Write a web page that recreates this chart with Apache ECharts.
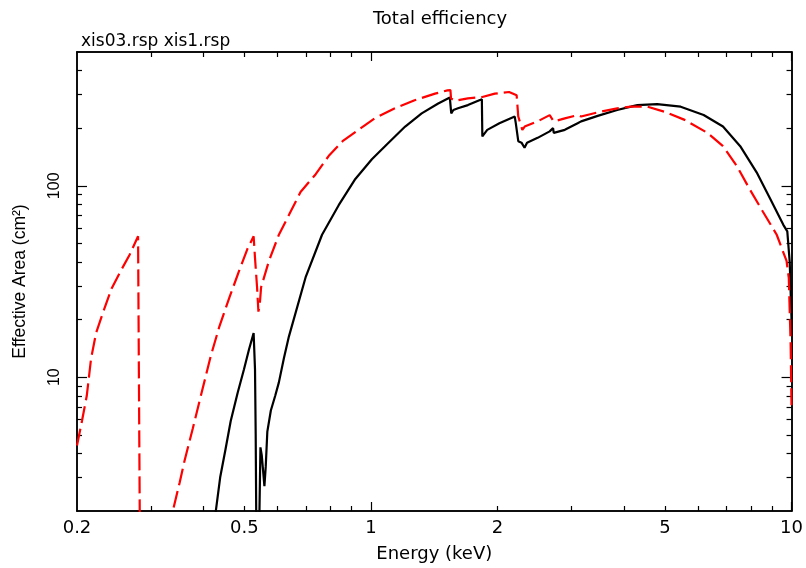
<!DOCTYPE html>
<html>
<head>
<meta charset="utf-8">
<title>Total efficiency</title>
<script src="https://cdn.jsdelivr.net/npm/echarts@6/dist/echarts.min.js"></script>
<style>
  html, body { margin: 0; padding: 0; background: #fff; }
  #chart { width: 806px; height: 568px; }
</style>
</head>
<body>
<div id="chart"></div>
<script>
// xis03.rsp (black, solid) - [energy keV, effective area cm2]
const xis03Points = [
  [0.425, 1.8], [0.438, 3.0], [0.451, 4.2], [0.464, 5.9], [0.482, 8.3],
  [0.499, 11.0], [0.513, 14.0], [0.526, 17.0], [0.530, 11.0], [0.532, 5.0],
  [0.534, 1.5], [0.542, 1.5], [0.546, 4.3], [0.550, 3.9], [0.553, 3.4],
  [0.558, 2.7], [0.562, 3.4], [0.567, 5.2], [0.578, 6.7], [0.592, 8.0],
  [0.604, 9.4], [0.621, 12.6], [0.638, 16.3], [0.699, 33.2], [0.765, 55.5],
  [0.838, 79.2], [0.918, 108.6], [1.005, 137.7], [1.101, 167.8], [1.206, 204],
  [1.320, 239], [1.445, 269], [1.54, 289], [1.552, 239], [1.57, 249],
  [1.61, 254], [1.70, 264], [1.81, 280], [1.835, 283], [1.84, 181],
  [1.89, 196], [2.02, 212], [2.197, 230], [2.21, 212], [2.24, 171],
  [2.28, 168], [2.318, 158], [2.35, 168], [2.49, 178], [2.66, 192.5],
  [2.71, 200], [2.72, 189], [2.89, 196], [3.10, 212], [3.16, 217],
  [3.18, 212], [3.46, 232], [3.85, 249], [4.15, 259], [4.30, 264],
  [4.79, 267], [5.45, 259], [6.18, 234.5], [6.87, 204], [7.55, 161],
  [8.26, 117.6], [8.89, 85.7], [9.56, 62.5], [9.77, 57.8], [9.9, 40],
  [10, 20]
];

// xis1.rsp (red, dashed)
const xis1Points = [
  [0.2, 4.4], [0.2055, 5.9], [0.211, 8.0], [0.216, 12.5], [0.222, 17.0],
  [0.2308, 21.9], [0.2416, 29.0], [0.253, 35.3], [0.267, 43.8], [0.2794, 54.5],
  [0.2822, 55], [0.2825, 1], [0.334, 1], [0.338, 2.0], [0.351, 2.83],
  [0.360, 3.63], [0.377, 5.4], [0.394, 8.0], [0.416, 12.9], [0.436, 18.4],
  [0.461, 26.2], [0.486, 36.0], [0.508, 46.6], [0.526, 54.5], [0.530, 42],
  [0.536, 29.5], [0.540, 22], [0.544, 24], [0.548, 29.5], [0.572, 40.5],
  [0.604, 55.5], [0.638, 70.3], [0.680, 92.8], [0.739, 115], [0.793, 143],
  [0.856, 171], [0.934, 196], [1.02, 225], [1.14, 254], [1.27, 280],
  [1.42, 303], [1.52, 315], [1.545, 316], [1.55, 286], [1.586, 278],
  [1.70, 286], [1.84, 291], [1.97, 303], [2.13, 309], [2.22, 297],
  [2.24, 230], [2.29, 196], [2.32, 204], [2.49, 217], [2.66, 234],
  [2.72, 217], [2.89, 225], [3.10, 234], [3.16, 230], [3.46, 242],
  [3.85, 254], [4.15, 259], [4.54, 259], [4.98, 244], [5.57, 221],
  [6.31, 189], [6.87, 161], [7.41, 127], [7.94, 96.5], [8.55, 73.2],
  [9.22, 55.5], [9.73, 40.5], [9.85, 33], [9.95, 15], [10, 6.9]
];

const xLabels = [0.2, 0.5, 1, 2, 5, 10];
const xMajorTicks = [1, 10];
const xMinorTicks = [0.3, 0.4, 0.5, 0.6, 0.7, 0.8, 0.9, 2, 3, 4, 5, 6, 7, 8, 9];
const yLabels = [10, 100];
const yMajorTicks = [10, 100];
const yMinorTicks = [3, 4, 5, 6, 7, 8, 9, 20, 30, 40, 50, 60, 70, 80, 90, 200, 300, 400];

// the reference text is wide horizontally, so use DejaVu for horizontal text
const wideFont = 'DejaVu Sans, Verdana, sans-serif';
const font = 'Liberation Sans, Arial, Helvetica, sans-serif';
const axisColor = '#000';

// one axis per tick set, so major and minor ticks get different lengths
function makeAxis(kind, pos, ticks, len, extra) {
  const isX = kind === 'x';
  return Object.assign({
    type: 'log',
    logBase: 10,
    min: isX ? 0.2 : 2,
    max: isX ? 10 : 500,
    position: pos,
    axisLine: { show: true, onZero: false, lineStyle: { color: axisColor, width: 1.5 } },
    axisTick: { show: true, inside: true, length: len, customValues: ticks, lineStyle: { color: axisColor, width: 1.2 } },
    axisLabel: { show: false },
    splitLine: { show: false },
    minorTick: { show: false },
    minorSplitLine: { show: false }
  }, extra || {});
}

const chart = echarts.init(document.getElementById('chart'));

const option = {
  animation: false,
  backgroundColor: '#fff',
  title: [
    { text: 'Total efficiency', left: 435, top: 5, textAlign: 'center',
      textStyle: { fontFamily: wideFont, fontSize: 18, fontWeight: 'normal', color: '#000' } },
    { text: 'xis03.rsp xis1.rsp', left: 76, top: 28,
      textStyle: { fontFamily: wideFont, fontSize: 17, fontWeight: 'normal', color: '#000' } }
  ],
  grid: { left: 77, right: 12, top: 52, bottom: 50, containLabel: false },
  xAxis: [
    makeAxis('x', 'bottom', xMajorTicks, 9, {
      name: 'Energy (keV)', nameLocation: 'middle', nameGap: 34,
      nameTextStyle: { fontFamily: wideFont, fontSize: 18, color: '#000' },
      axisLabel: { show: true, customValues: xLabels, margin: 8,
        fontFamily: wideFont, fontSize: 18, color: '#000',
        formatter: v => String(+(+v).toPrecision(3)) }
    }),
    makeAxis('x', 'bottom', xMinorTicks, 5),
    makeAxis('x', 'top', xMajorTicks, 9),
    makeAxis('x', 'top', xMinorTicks, 5)
  ],
  yAxis: [
    makeAxis('y', 'left', yMajorTicks, 10, {
      name: 'Effective Area (cm²)', nameLocation: 'middle', nameGap: 48,
      nameTextStyle: { fontFamily: font, fontSize: 17.5, color: '#000' },
      axisLabel: { show: true, customValues: yLabels, rotate: 90, margin: 14,
        fontFamily: font, fontSize: 16, color: '#000',
        formatter: v => String(+(+v).toPrecision(3)) }
    }),
    makeAxis('y', 'left', yMinorTicks, 5),
    makeAxis('y', 'right', yMajorTicks, 10),
    makeAxis('y', 'right', yMinorTicks, 5)
  ],
  series: [
    {
      name: 'xis03.rsp',
      type: 'line',
      xAxisIndex: 0,
      yAxisIndex: 0,
      data: xis03Points,
      showSymbol: false,
      clip: true,
      lineStyle: { color: '#000', width: 2.2 }
    },
    {
      name: 'xis1.rsp',
      type: 'line',
      xAxisIndex: 0,
      yAxisIndex: 0,
      data: xis1Points,
      showSymbol: false,
      clip: true,
      lineStyle: { color: '#f00', width: 2.2, type: [17, 6] }
    }
  ]
};

chart.setOption(option);
</script>
</body>
</html>
